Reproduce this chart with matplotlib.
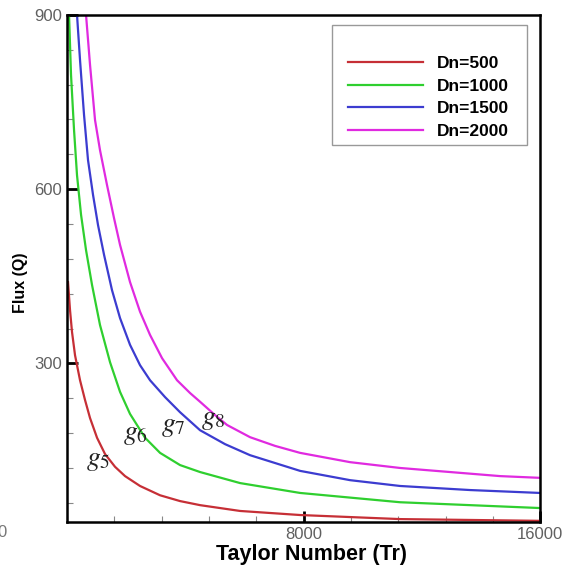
import matplotlib
matplotlib.use('Agg')
import matplotlib.pyplot as plt
from matplotlib.patches import Rectangle
from matplotlib.ticker import MultipleLocator

# values
tr_500 = [34, 101, 169, 271, 440, 609, 778, 1015, 1285, 1624, 1962, 2469, 3146, 3822, 4499,
          5852, 7882, 11264, 16000]
q_500 = [440, 392, 354, 314, 271, 237, 206, 172, 144, 122, 106, 89, 73, 63, 56, 46, 39, 32, 29]

tr_1000 = [68, 135, 237, 338, 474, 643, 846, 1116, 1455, 1793, 2131, 2639, 3146, 3822, 4499,
           5852, 7882, 11264, 16000]
q_1000 = [900, 797, 702, 624, 556, 495, 435, 366, 302, 251, 213, 172, 146, 125, 113, 94, 77, 61, 51]

tr_1500 = [338, 440, 575, 710, 880, 1049, 1252, 1522, 1793, 2131, 2469, 2808, 3315, 3822, 4499,
           5345, 6190, 7882, 9573, 11264, 13632, 16000]
q_1500 = [900, 822, 728, 650, 590, 538, 487, 426, 378, 332, 297, 271, 242, 216, 185, 161, 142,
          115, 99, 89, 82, 77]

tr_2000 = [643, 778, 947, 1116, 1353, 1590, 1793, 2131, 2469, 2808, 3214, 3721, 4161, 4499, 5006,
           5412, 6190, 7036, 7882, 9573, 11264, 12956, 14647, 16000]
q_2000 = [900, 814, 719, 667, 607, 550, 504, 440, 389, 349, 309, 271, 249, 234, 211, 194, 173,
          158, 146, 130, 120, 113, 106, 103]

series = [
    ('Dn=500', tr_500, q_500, '#c62f36'),
    ('Dn=1000', tr_1000, q_1000, '#2fcf2f'),
    ('Dn=1500', tr_1500, q_1500, '#3c3cd0'),
    ('Dn=2000', tr_2000, q_2000, '#e02ae0'),
]

curve_labels = [r'$g_5$', r'$g_6$', r'$g_7$', r'$g_8$']
label_tr = [1050, 2300, 3590, 4940]
label_q = [134, 179, 192, 204]

plt.rcParams['font.family'] = ['Liberation Sans', 'DejaVu Sans']
plt.rcParams['mathtext.fontset'] = 'stix'

fig = plt.figure(figsize=(5.68, 5.74), dpi=100)
ax = fig.add_axes([0.118, 0.0906, 0.833, 0.8834])

for name, x, y, c in series:
    ax.plot(x, y, color=c, linewidth=1.6, label=name, solid_joinstyle='round')

for lab, x, y in zip(curve_labels, label_tr, label_q):
    ax.text(x, y, lab, fontsize=20, ha='center', va='center', color='#222222')

ax.set_xlim(0, 16000)
ax.set_ylim(27, 900)
ax.set_xticks([8000, 16000])
ax.set_yticks([300, 600, 900])
ax.xaxis.set_minor_locator(MultipleLocator(1600))
ax.yaxis.set_minor_locator(MultipleLocator(60))
ax.tick_params(which='major', direction='in', length=8, width=2, labelsize=12,
               labelcolor='#606060', top=False, right=False)
ax.tick_params(which='minor', direction='in', length=4, width=0.8, color='#888888',
               top=False, right=False)
for s in ax.spines.values():
    s.set_linewidth(1.8)
    s.set_color('black')

ax.set_xlabel('Taylor Number (Tr)', fontsize=15.5, fontweight='bold')
ax.xaxis.set_label_coords(0.516, -0.044)
ax.set_ylabel('Flux (Q)', fontsize=11.5, fontweight='bold')
ax.yaxis.set_label_coords(-0.083, 0.471)

# legend box drawn separately (padding is uneven in the reference)
ax.add_patch(Rectangle((0.560, 0.7436), 0.4125, 0.2364, transform=ax.transAxes,
                       facecolor='white', edgecolor='#999999', linewidth=1.0, zorder=4))
leg = ax.legend(loc='upper left', bbox_to_anchor=(0.594, 0.919),
                prop={'weight': 'bold', 'size': 12.5}, frameon=False,
                handlelength=4.3, handletextpad=0.8, labelspacing=0.43,
                borderpad=0, borderaxespad=0)
leg.set_zorder(5)

fig.text(0.004, 0.072, '0', fontsize=12, color='#777777', ha='center', va='center')

fig.savefig('out.png', dpi=100)
